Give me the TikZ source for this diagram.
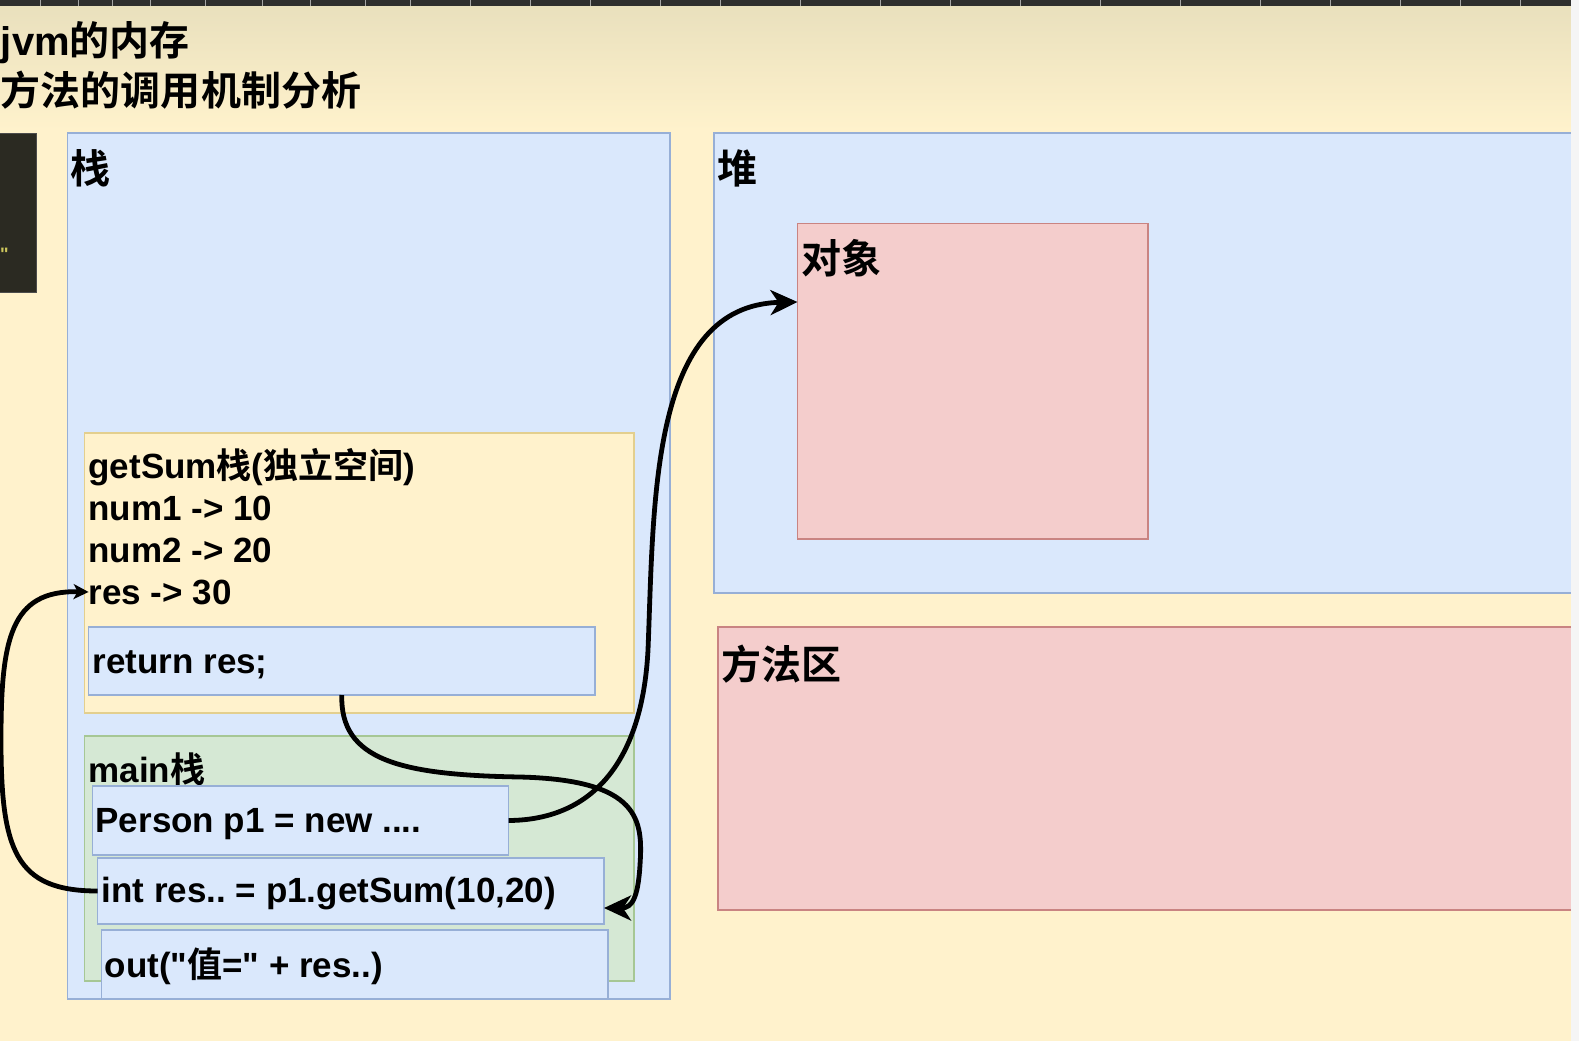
\documentclass[tikz,border=0pt]{standalone}
\usepackage{fontspec}
\setmainfont{Liberation Sans}[Ligatures=TeXOff]
\newfontfamily\cjk{Noto Sans CJK SC}[BoldFont=* Bold]
\newcommand{\zh}[1]{{\cjk\bfseries #1}}
\usetikzlibrary{arrows.meta}
\frenchspacing
\definecolor{bgy}{HTML}{FFF2CC}
\definecolor{bgtop}{HTML}{E9E0BD}
\definecolor{blueF}{HTML}{DAE8FC}
\definecolor{blueB}{HTML}{97AFD6}
\definecolor{redF}{HTML}{F4CDCC}
\definecolor{redB}{HTML}{C98482}
\definecolor{yelB}{HTML}{E3CF8E}
\definecolor{greenF}{HTML}{D5E8D4}
\definecolor{greenB}{HTML}{A6C795}
\definecolor{darkbox}{HTML}{2B2A22}
\definecolor{greystrip}{HTML}{F5F5F5}
\begin{document}
\begin{tikzpicture}[x=1pt,y=-1pt,
  boxbase/.style={rectangle, inner sep=0pt, outer sep=0pt, anchor=north west},
  bluebox/.style={boxbase, draw=blueB, fill=blueF, line width=1.6pt},
  redbox/.style={boxbase, draw=redB, fill=redF, line width=1.6pt},
  yelbox/.style={boxbase, draw=yelB, fill=bgy, line width=1.4pt},
  greenbox/.style={boxbase, draw=greenB, fill=greenF, line width=1.4pt},
  codetext/.style={inner sep=0pt, outer sep=0pt, anchor=base west, font=\fontsize{35}{42}\selectfont\bfseries, text=black},
  labeltext/.style={inner sep=0pt, outer sep=0pt, anchor=base west, font=\fontsize{40}{48}\selectfont\bfseries, text=black},
  arr/.style={line width=4.8pt, black, -{Stealth[length=27pt, width=25pt, inset=8pt]}},
  arrsmall/.style={line width=4.8pt, black, -{Stealth[length=15pt, width=15pt, inset=4pt]}}
]
\useasboundingbox (0,0) rectangle (1579,1041);
% background
\fill[bgy] (0,0) rectangle (1579,1041);
\shade[top color=bgtop, bottom color=bgy] (0,6) rectangle (1579,130);
\fill[black!82] (0,0) rectangle (1579,6);
\foreach \t in {40,78,112,150,205,262,310,365,410,470,530,590,660,720,800,880,950,1020,1100,1180,1260,1330,1400,1460,1520}
  \draw[gray!70, line width=0.8pt] (\t,0) -- (\t,6);

% title
\node[labeltext] (t1) at (1,56) {jvm\zh{的内存}};
\node[labeltext] (t2) at (1,105) {\zh{方法的调用机制分析}};

% dark side box
\node[boxbase, draw=gray!60!black, fill=darkbox, line width=1pt, minimum width=37pt, minimum height=159pt] (side) at (-1,133) {};
\node[inner sep=0pt, anchor=base west, font=\fontsize{18}{18}\selectfont\bfseries, text=yellow!55!gray] (q) at (0,260) {"};

% stack
\node[bluebox, minimum width=602.5pt, minimum height=866pt] (stack) at (67.5,133) {};
\node[labeltext] (stacklbl) at (70.5,183) {\zh{栈}};

% heap
\node[bluebox, minimum width=862pt, minimum height=460pt] (heap) at (714,133) {};
\node[labeltext] (heaplbl) at (717,183) {\zh{堆}};
\node[redbox, minimum width=350.5pt, minimum height=315.5pt] (obj) at (797.5,223.5) {};
\node[labeltext] (objlbl) at (801.5,273) {\zh{对象}};

% method area
\node[redbox, minimum width=858pt, minimum height=283pt] (marea) at (718,627) {};
\node[labeltext] (marealbl) at (721,679) {\zh{方法区}};

% getSum frame
\node[yelbox, minimum width=549.5pt, minimum height=280pt] (getsum) at (84.5,433) {};
\node[codetext] (gs1) at (88.6,478) {getSum\zh{栈}(\zh{独立空间})};
\node[codetext] (gs2) at (88.6,520) {num1 -> 10};
\node[codetext] (gs3) at (88.6,562) {num2 -> 20};
\node[codetext] (gs4) at (88.6,604) {res -> 30};
\node[bluebox, line width=1.4pt, minimum width=506.4pt, minimum height=68pt] (ret) at (88.6,627) {};
\node[codetext] (rettext) at (92.6,673) {return res;};

% main frame
\node[greenbox, minimum width=549.5pt, minimum height=245pt] (main) at (84.5,736) {};
\node[codetext] (maintext) at (88.6,782) {main\zh{栈}};
\node[bluebox, line width=1.4pt, minimum width=416pt, minimum height=69pt] (person) at (92.6,786) {};
\node[codetext] (persontext) at (95.6,832) {Person p1 = new ....};
\node[bluebox, line width=1.4pt, minimum width=506.3pt, minimum height=66pt] (intres) at (97.7,858) {};
\node[codetext] (intrestext) at (101.7,902) {int res.. = p1.getSum(10,20)};
\node[bluebox, line width=1.4pt, minimum width=506.3pt, minimum height=69pt] (out) at (101.7,930) {};
\node[codetext] (outtext) at (104.7,977) {out("\zh{值}=" + res..)};

% connectors
\draw[arr] (person.east) .. controls (590,820) and (642,765) .. (648,650)
   .. controls (654,500) and (650,305) .. ([yshift=-78.5pt]obj.north west);
\draw[arrsmall] (intres.west) .. controls (15,891) and (1,850) .. (1,740)
   .. controls (1,640) and (10,590) .. (gs4.west);
\draw[arr] (ret.south) .. controls (340,760) and (400,775) .. (520,777)
   .. controls (640,780) and (643,820) .. (640,865)
   .. controls (638,898) and (632,908) .. ([yshift=-17pt]intres.east);

% right grey strip
\fill[greystrip] (1571,0) rectangle (1579,1041);
\end{tikzpicture}
\end{document}
